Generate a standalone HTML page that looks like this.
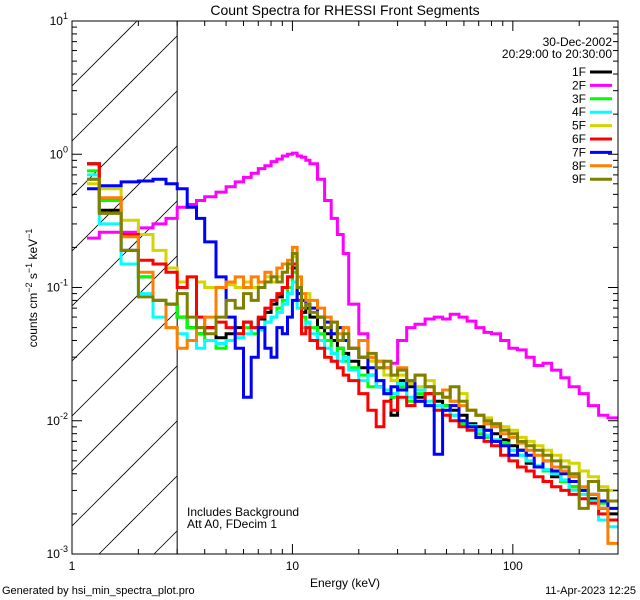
<!DOCTYPE html>
<html><head><meta charset="utf-8"><style>
html,body{margin:0;background:#fff;width:640px;height:600px;overflow:hidden;}
svg{display:block;font-family:"Liberation Sans",sans-serif;overflow:hidden;}
</style></head><body>
<svg id="chart" width="640" height="600" xmlns="http://www.w3.org/2000/svg">
<rect width="640" height="600" fill="#fff"/>
<text x="345" y="15" text-anchor="middle" font-size="14">Count Spectra for RHESSI Front Segments</text>
<defs><clipPath id="hclip"><rect x="72" y="21" width="105" height="533"/></clipPath>
<clipPath id="pclip"><rect x="72" y="21" width="546" height="533"/></clipPath></defs>
<g id="hatch" clip-path="url(#hclip)"></g>
<g id="series" clip-path="url(#pclip)"></g>
<g id="axes"></g>
<text x="187" y="516" font-size="12">Includes Background</text>
<text x="187" y="528" font-size="12">Att A0, FDecim 1</text>
<text x="612" y="46" text-anchor="end" font-size="12">30-Dec-2002</text>
<text x="612" y="58" text-anchor="end" font-size="12">20:29:00 to 20:30:00</text>
<g id="legend"></g>
<text x="345" y="587" text-anchor="middle" font-size="12">Energy (keV)</text>
<text transform="translate(37,288) rotate(-90)" text-anchor="middle" font-size="12">counts cm<tspan dy="-5" font-size="9">−2</tspan><tspan dy="5"> s</tspan><tspan dy="-5" font-size="9">−1</tspan><tspan dy="5"> keV</tspan><tspan dy="-5" font-size="9">−1</tspan></text>
<text x="2" y="594" font-size="11">Generated by hsi_min_spectra_plot.pro</text>
<text x="636" y="594" text-anchor="end" font-size="11">11-Apr-2023 12:25</text>
</svg>
<script>
const edges=[1.17,1.33,1.67,2.0,2.33,2.67,3.0,3.33,3.67,4.0,4.5,5,5.5,6,6.5,7,7.5,8,8.5,9,9.5,10,10.5,11,11.5,12,13,14,15,16,17,18,20,22,24,26,28,30,33,36,40,44,48,52,57,62,68,74,80,88,96,105,115,125,137,150,165,180,200,220,245,270,300];
const seriesNames=["1F","2F","3F","4F","5F","6F","7F","8F","9F"];
const seriesColors=["#000000","#ff00ff","#00ff00","#00ffff","#d4d400","#ff0000","#0000ff","#ff8000","#808000"];
const s1F=[0.85,0.38,0.19,0.12,0.08,0.075,0.06,0.05,0.045,0.05,0.042,0.045,0.05,0.055,0.05,0.058,0.065,0.075,0.085,0.1,0.12,0.14,0.09,0.065,0.07,
0.06,0.05,0.045,0.04,0.035,0.032,0.028,0.025,0.022,0.018,0.016,0.011,0.02,0.018,0.015,0.016,0.014,0.013,0.012,0.011,0.0095,0.009,0.0085,0.008,0.0072,0.0065,0.006,0.0048,0.0045,0.0042,0.0038,0.0035,0.0032,0.003,0.0026,0.0022,0.002];
const s2F=[0.235,0.26,0.26,0.28,0.3,0.33,0.40,0.42,0.45,0.48,0.52,0.57,0.62,0.67,0.72,0.78,0.82,0.88,0.92,0.97,1.0,1.02,0.97,0.95,0.9,
0.85,0.65,0.45,0.33,0.25,0.18,0.075,0.045,0.03,0.028,0.025,0.027,0.04,0.05,0.053,0.058,0.06,0.058,0.063,0.06,0.056,0.05,0.046,0.045,0.04,0.035,0.034,0.03,0.026,0.027,0.024,0.021,0.018,0.016,0.013,0.011,0.0105];
const s3F=[0.75,0.45,0.25,0.12,0.08,0.075,0.06,0.05,0.045,0.04,0.035,0.04,0.045,0.05,0.045,0.05,0.055,0.06,0.07,0.08,0.1,0.13,0.08,0.06,0.055,
0.05,0.045,0.04,0.032,0.035,0.028,0.025,0.022,0.018,0.02,0.016,0.015,0.018,0.014,0.016,0.013,0.012,0.013,0.011,0.0095,0.009,0.008,0.0075,0.007,0.0068,0.006,0.0055,0.005,0.0045,0.0042,0.004,0.0035,0.0032,0.003,0.0028,0.0024,0.0022];
const s4F=[0.7,0.3,0.15,0.09,0.06,0.05,0.045,0.04,0.035,0.04,0.038,0.04,0.042,0.045,0.05,0.048,0.055,0.06,0.065,0.075,0.09,0.11,0.07,0.05,0.055,
0.045,0.04,0.035,0.032,0.028,0.03,0.024,0.02,0.022,0.018,0.017,0.016,0.019,0.015,0.017,0.014,0.013,0.012,0.011,0.01,0.0092,0.0085,0.0078,0.0072,0.0065,0.006,0.0055,0.005,0.0046,0.0043,0.004,0.0036,0.003,0.0028,0.0025,0.0018,0.0016];
const s5F=[0.6,0.55,0.32,0.25,0.19,0.14,0.11,0.12,0.11,0.1,0.1,0.105,0.1,0.11,0.1,0.11,0.12,0.11,0.12,0.13,0.14,0.17,0.1,0.08,0.09,
0.07,0.06,0.055,0.045,0.05,0.04,0.035,0.03,0.028,0.025,0.022,0.02,0.022,0.019,0.018,0.02,0.016,0.015,0.014,0.016,0.012,0.011,0.0105,0.0095,0.009,0.0085,0.0075,0.007,0.0065,0.006,0.0055,0.005,0.0048,0.0042,0.0038,0.0032,0.003];
const s6F=[0.85,0.47,0.25,0.16,0.15,0.13,0.1,0.12,0.06,0.05,0.055,0.05,0.045,0.055,0.05,0.06,0.07,0.08,0.09,0.1,0.12,0.15,0.08,0.045,0.05,
0.04,0.035,0.03,0.028,0.025,0.022,0.02,0.016,0.012,0.009,0.014,0.012,0.015,0.013,0.014,0.016,0.012,0.011,0.01,0.009,0.0085,0.0075,0.007,0.0065,0.0055,0.005,0.0045,0.0042,0.0038,0.0035,0.0032,0.003,0.0028,0.0026,0.0024,0.002,0.0018];
const s7F=[0.55,0.58,0.62,0.63,0.65,0.6,0.55,0.4,0.33,0.22,0.12,0.06,0.035,0.015,0.03,0.05,0.035,0.03,0.05,0.045,0.06,0.08,0.1,0.08,0.075,
0.07,0.06,0.055,0.045,0.05,0.04,0.035,0.03,0.025,0.02,0.016,0.018,0.017,0.02,0.014,0.013,0.0056,0.012,0.013,0.01,0.009,0.0075,0.0085,0.007,0.0065,0.0055,0.006,0.0055,0.0045,0.005,0.0042,0.004,0.0035,0.003,0.0028,0.0025,0.0022];
const s8F=[0.65,0.47,0.24,0.13,0.08,0.05,0.035,0.04,0.05,0.06,0.1,0.11,0.12,0.1,0.12,0.11,0.13,0.12,0.14,0.15,0.16,0.2,0.12,0.09,0.08,
0.08,0.07,0.06,0.055,0.045,0.05,0.035,0.04,0.03,0.028,0.025,0.022,0.025,0.02,0.022,0.018,0.016,0.017,0.014,0.013,0.012,0.011,0.0095,0.009,0.008,0.0075,0.0068,0.006,0.0055,0.005,0.0045,0.0042,0.0038,0.0032,0.0028,0.0022,0.0012];
const s9F=[0.65,0.36,0.19,0.085,0.08,0.075,0.09,0.06,0.05,0.045,0.06,0.08,0.07,0.09,0.08,0.1,0.11,0.12,0.11,0.13,0.15,0.18,0.1,0.07,0.075,
0.065,0.06,0.05,0.055,0.04,0.045,0.035,0.03,0.032,0.025,0.028,0.022,0.024,0.02,0.022,0.018,0.016,0.015,0.018,0.014,0.012,0.011,0.01,0.0095,0.0085,0.008,0.007,0.0065,0.006,0.0055,0.005,0.0045,0.004,0.0022,0.0035,0.003,0.0025];
const xTickLabels=["1","10","100"];
const xTickValues=[1,10,100];
const yTickValues=[0.001,0.01,0.1,1,10];
const yTickExps=["-3","-2","-1","0","1"];

const L=72,R=618,T=21,B=554,XMIN=1,XMAX=300,YMIN=0.001,YMAX=10;
const xs=e=>L+(Math.log10(e)-Math.log10(XMIN))/(Math.log10(XMAX)-Math.log10(XMIN))*(R-L);
const ys=v=>B-(Math.log10(v)-Math.log10(YMIN))/(Math.log10(YMAX)-Math.log10(YMIN))*(B-T);
const NS="http://www.w3.org/2000/svg";
function mk(tag,attrs,parent){const e=document.createElementNS(NS,tag);for(const k in attrs)e.setAttribute(k,attrs[k]);parent.appendChild(e);return e;}

// hatch: lines y = k - (x-72), clipped to region manually
const hg=document.getElementById('hatch');
const HX0=72,HX1=177;
for(let k=86;k<B+(HX1-HX0)+55;k+=55){
  let xa=HX0,ya=k;
  if(ya>B){xa=HX0+(ya-B);ya=B;}
  let xb=HX1,yb=k-(HX1-HX0);
  if(yb<T){xb=HX0+(k-T);yb=T;}
  if(xa>=xb)continue;
  const h=mk('line',{x1:xa,y1:ya,x2:xb,y2:yb,stroke:'#000','stroke-width':0.8},hg);
  
  
}
const sg=document.getElementById('series');
const vl=mk('line',{x1:xs(3),y1:T,x2:xs(3),y2:B,stroke:'#000','stroke-width':1},sg);



const allSeries=[s1F,s2F,s3F,s4F,s5F,s6F,s7F,s8F,s9F];
const drawOrder=[1,0,2,3,4,5,6,7,8];
drawOrder.forEach(i=>{
  const vals=allSeries[i];let d='';
  for(let j=0;j<vals.length;j++){
    const y=ys(vals[j]).toFixed(1);
    d+=(j===0?'M':'L')+xs(edges[j]).toFixed(1)+','+y+'L'+xs(edges[j+1]).toFixed(1)+','+y;
  }
  const p=mk('path',{d:d,fill:'none',stroke:seriesColors[i],'stroke-width':3,'stroke-linejoin':'miter'},sg);
  
  
});

// axes
const ag=document.getElementById('axes');
const fr=mk('rect',{x:L,y:T,width:R-L,height:B-T,fill:'none',stroke:'#000','stroke-width':1},ag);


for(let dec=1;dec<=100;dec*=10){
  for(let m=1;m<=9;m++){
    const e=dec*m;if(e>XMAX)break;const x=xs(e);const len=m===1?10:5;
    mk('line',{x1:x,y1:B,x2:x,y2:B-len,stroke:'#000'},ag);
    mk('line',{x1:x,y1:T,x2:x,y2:T+len,stroke:'#000'},ag);
  }
}
xTickValues.forEach((v,i)=>{
  const t=mk('text',{x:xs(v),y:B+16,'text-anchor':'middle','font-size':12},ag);
  t.textContent=xTickLabels[i];
  
  
});
for(let dec=0.001;dec<10;dec*=10){
  for(let m=1;m<=9;m++){
    const v=dec*m;const y=ys(v);const len=m===1?10:5;
    mk('line',{x1:L,y1:y,x2:L+len,y2:y,stroke:'#000'},ag);
    mk('line',{x1:R,y1:y,x2:R-len,y2:y,stroke:'#000'},ag);
  }
}
yTickValues.forEach((v,i)=>{
  const t=mk('text',{x:L-4,y:ys(v)+4,'text-anchor':'end','font-size':12},ag);
  t.innerHTML='10<tspan dy="-6" font-size="9">'+yTickExps[i]+'</tspan>';
  
  
});
// legend
const lg=document.getElementById('legend');
seriesNames.forEach((n,i)=>{
  const y=72+i*13.4;
  const t=mk('text',{x:586,y:y+4,'text-anchor':'end','font-size':12},lg);
  t.textContent=n;
  
  
  const l=mk('line',{x1:590,y1:y,x2:612,y2:y,stroke:seriesColors[i],'stroke-width':3},lg);
  
  
});
</script>
</body></html>
